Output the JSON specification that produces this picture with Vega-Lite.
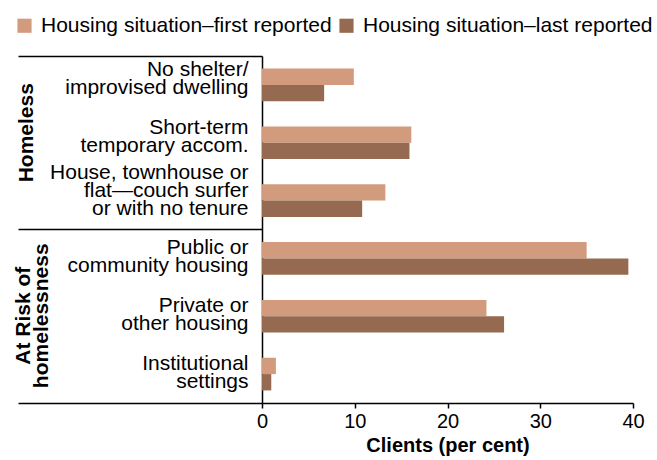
{
  "$schema": "https://vega.github.io/schema/vega-lite/v6.json",
  "width": 371,
  "height": 347,
  "autosize": {"type": "none"},
  "padding": {"left": 262, "top": 56, "right": 24, "bottom": 57},
  "background": "white",
  "config": {"view": {"stroke": null}, "font": "Liberation Sans"},
  "data": {
    "values": [
      {"situation": "No shelter/|improvised dwelling", "group": "Homeless", "series": "Housing situation–first reported", "percent": 9.9},
      {"situation": "No shelter/|improvised dwelling", "group": "Homeless", "series": "Housing situation–last reported", "percent": 6.7},
      {"situation": "Short-term|temporary accom.", "group": "Homeless", "series": "Housing situation–first reported", "percent": 16.1},
      {"situation": "Short-term|temporary accom.", "group": "Homeless", "series": "Housing situation–last reported", "percent": 15.9},
      {"situation": "House, townhouse or|flat—couch surfer|or with no tenure", "group": "Homeless", "series": "Housing situation–first reported", "percent": 13.3},
      {"situation": "House, townhouse or|flat—couch surfer|or with no tenure", "group": "Homeless", "series": "Housing situation–last reported", "percent": 10.8},
      {"situation": "Public or|community housing", "group": "At Risk of homelessness", "series": "Housing situation–first reported", "percent": 35.0},
      {"situation": "Public or|community housing", "group": "At Risk of homelessness", "series": "Housing situation–last reported", "percent": 39.5},
      {"situation": "Private or|other housing", "group": "At Risk of homelessness", "series": "Housing situation–first reported", "percent": 24.2},
      {"situation": "Private or|other housing", "group": "At Risk of homelessness", "series": "Housing situation–last reported", "percent": 26.1},
      {"situation": "Institutional|settings", "group": "At Risk of homelessness", "series": "Housing situation–first reported", "percent": 1.5},
      {"situation": "Institutional|settings", "group": "At Risk of homelessness", "series": "Housing situation–last reported", "percent": 1.0}
    ]
  },
  "layer": [
    {
      "mark": {"type": "bar"},
      "encoding": {
        "y": {
          "field": "situation",
          "type": "nominal",
          "sort": null,
          "scale": {"paddingInner": 0, "paddingOuter": 0},
          "axis": {
            "title": null,
            "labelExpr": "split(datum.label, '|')",
            "labelFontSize": 21,
            "labelLineHeight": 18,
            "labelColor": "black",
            "labelAlign": "right",
            "labelBaseline": "alphabetic",
            "labelPadding": -230,
            "labelOffset": {
              "condition": [
                {"test": "datum.value === 'House, townhouse or|flat—couch surfer|or with no tenure'", "value": -21.5},
                {"test": "datum.value === 'No shelter/|improvised dwelling' || datum.value === 'Short-term|temporary accom.'", "value": -8.5}
              ],
              "value": -4.2
            },
            "labelLimit": 400,
            "bandPosition": 1,
            "tickExtra": true,
            "tickSize": 244,
            "tickWidth": 1.5,
            "tickColor": {
              "condition": {
                "test": "datum.value === 'House, townhouse or|flat—couch surfer|or with no tenure' || datum.value === 'Institutional|settings' || !isValid(datum.value)",
                "value": "black"
              },
              "value": "transparent"
            },
            "domainColor": "black",
            "domainWidth": 1.5
          }
        },
        "yOffset": {
          "field": "series",
          "sort": null,
          "scale": {"paddingInner": 0, "paddingOuter": 0.77}
        },
        "x": {
          "field": "percent",
          "type": "quantitative",
          "scale": {"domain": [0, 40], "nice": false},
          "axis": {
            "title": "Clients (per cent)",
            "titleFontSize": 20,
            "titleFontWeight": "bold",
            "titleColor": "black",
            "titlePadding": 4,
            "values": [0, 10, 20, 30, 40],
            "labelFontSize": 20,
            "labelColor": "black",
            "labelPadding": 3,
            "labelFlush": false,
            "tickColor": "black",
            "tickSize": 5,
            "tickWidth": 1.5,
            "domainColor": "black",
            "domainWidth": 1.5,
            "grid": false
          }
        },
        "color": {
          "field": "series",
          "type": "nominal",
          "sort": null,
          "scale": {"range": ["#D29B7D", "#966A50"]},
          "legend": {
            "title": null,
            "orient": "none",
            "legendX": -248,
            "legendY": -41,
            "direction": "horizontal",
            "symbolType": "square",
            "symbolSize": 200,
            "symbolStrokeWidth": 0,
            "labelFontSize": 21,
            "labelColor": "black",
            "labelOffset": 6,
            "columnPadding": 4,
            "padding": 0,
            "labelLimit": 400
          }
        }
      }
    },
    {
      "mark": {"type": "text", "opacity": 0},
      "encoding": {
        "y": {
          "field": "group",
          "type": "nominal",
          "sort": null,
          "axis": {
            "title": null,
            "orient": "left",
            "offset": 230,
            "ticks": false,
            "domain": false,
            "labelAngle": -90,
            "labelAlign": "center",
            "labelBaseline": "alphabetic",
            "labelPadding": {
              "condition": {"test": "datum.value === 'At Risk of homelessness'", "value": 3},
              "value": 0
            },
            "labelOffset": {
              "condition": {"test": "datum.value === 'Homeless'", "value": -10.5},
              "value": -1
            },
            "labelFontSize": 21,
            "labelFontWeight": "bold",
            "labelColor": "black",
            "labelLineHeight": 18,
            "labelLimit": 400,
            "labelExpr": "datum.label === 'At Risk of homelessness' ? ['At Risk of', 'homelessness'] : datum.label"
          }
        },
        "text": {"field": "group"}
      }
    }
  ],
  "resolve": {"scale": {"y": "independent"}, "axis": {"y": "independent"}}
}
